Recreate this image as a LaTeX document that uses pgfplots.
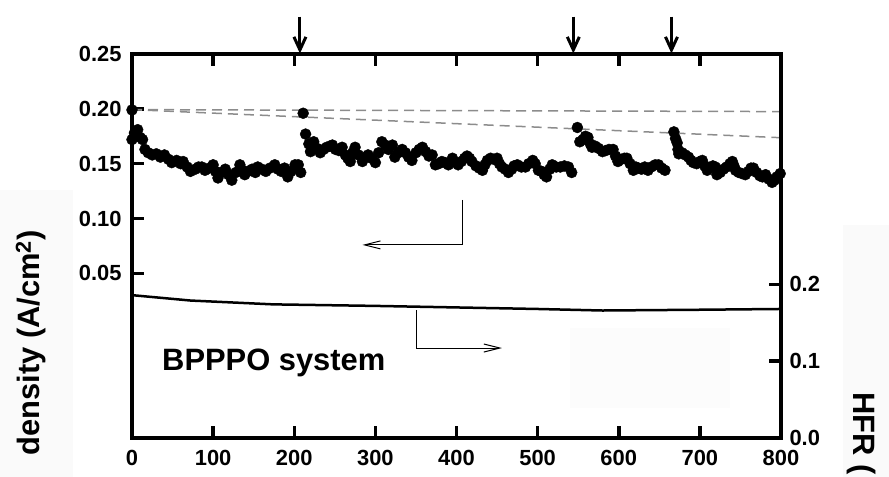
\documentclass[border=0pt]{standalone}
\usepackage{fontspec}
\setmainfont{Liberation Sans}
\usepackage{pgfplots}
\pgfplotsset{compat=1.18}
\usetikzlibrary{arrows.meta}
\begin{document}
\begin{tikzpicture}
\fill[black!2] (-132bp,-39bp) rectangle (-59bp,248bp);
\fill[black!2] (711bp,-39bp) rectangle (757bp,213bp);
\fill[black!1] (438bp,30bp) rectangle (598bp,110bp);
\useasboundingbox (-132bp,-39bp) rectangle (757bp,438bp);
\pgfplotsset{
  mystyle/.style={
    at={(0bp,0bp)}, anchor=south west,
    width=649bp, height=384bp, scale only axis,
    xmin=0, xmax=800, clip=false,
    axis line style={line width=4bp},
    every tick/.style={black, line width=3.5bp},
    major tick length=12bp, tick align=inside,
    /pgf/number format/assume math mode=true,
    tick label style={font=\fontsize{22}{26}\selectfont\bfseries},
  }
}
\begin{axis}[mystyle,
  ymin=-0.1, ymax=0.25,
  xtick={0,100,200,300,400,500,600,700,800},
  ytick={0.05,0.1,0.15,0.2,0.25},
  ytick pos=left,
  xticklabel style={yshift=-9bp},
  yticklabel style={xshift=-7bp, /pgf/number format/.cd, fixed, fixed zerofill, precision=2},
]
% dashed guide lines
\addplot[gray!90, line width=1.5bp, dash pattern=on 10bp off 6bp] coordinates {(0,0.1993) (800,0.1975)};
\addplot[gray!90, line width=1.5bp, dash pattern=on 10bp off 6bp] coordinates {(0,0.1993) (800,0.1737)};
% current density points
\addplot[only marks, mark=*, mark size=5.5bp, black] coordinates {
(0,0.199) (211,0.196) (549,0.183) (668,0.179)
};
\addplot[only marks, mark=*, mark size=5.5bp, black] coordinates {
(0,0.172) (3,0.178) (7,0.181) (10,0.174) (13,0.172) (16,0.163) (20,0.160) (25,0.158)
(30,0.159) (35,0.156) (40,0.158) (45,0.154) (49,0.151) (55,0.153) (60,0.150) (63,0.152)
(68,0.147) (72,0.143) (78,0.145) (82,0.147) (86,0.147) (90,0.144) (95,0.146) (100,0.149)
(103,0.143) (106,0.137) (110,0.142) (115,0.145) (119,0.140) (123,0.135) (128,0.142) (133,0.149)
(136,0.144) (139,0.140) (143,0.143) (148,0.145) (152,0.142) (155,0.147) (160,0.145) (165,0.143)
(170,0.146) (176,0.149) (180,0.145) (184,0.143) (188,0.146) (192,0.138) (196,0.143) (201,0.149)
(205,0.149) (208,0.142)
(214,0.177) (218,0.168) (220,0.161) (224,0.170) (228,0.164) (232,0.160) (236,0.163) (240,0.165)
(244,0.166) (247,0.167) (251,0.163) (255,0.162) (259,0.165) (263,0.158) (266,0.155) (269,0.152)
(272,0.160) (275,0.165) (279,0.158) (284,0.152) (288,0.156) (291,0.158) (295,0.155) (300,0.151)
(304,0.160) (308,0.170) (312,0.167) (316,0.163) (321,0.167) (324,0.156) (328,0.160) (333,0.163)
(337,0.160) (341,0.156) (345,0.153) (350,0.160) (354,0.163) (358,0.165) (362,0.161) (366,0.157)
(370,0.158) (374,0.149) (378,0.150) (382,0.152) (386,0.151) (390,0.149) (395,0.155) (399,0.151)
(402,0.149) (406,0.152) (410,0.155) (413,0.157) (416,0.155) (419,0.152) (424,0.148) (428,0.146)
(432,0.144) (435,0.149) (438,0.153) (442,0.155) (446,0.154) (450,0.155) (453,0.150) (456,0.147)
(460,0.145) (464,0.142) (468,0.145) (471,0.148) (475,0.149) (480,0.147) (485,0.147) (489,0.150)
(494,0.153) (497,0.150) (501,0.144) (505,0.143) (508,0.140) (511,0.138) (515,0.145) (518,0.149)
(523,0.147) (528,0.147) (533,0.148) (538,0.147) (542,0.142)
(552,0.170) (556,0.172) (559,0.175) (562,0.174) (565,0.168) (567,0.165) (571,0.166) (575,0.164)
(580,0.161) (584,0.162) (588,0.163) (593,0.163) (596,0.157) (599,0.152) (603,0.154) (607,0.155)
(610,0.155) (614,0.150) (618,0.144) (621,0.147) (624,0.146) (628,0.145) (632,0.147) (636,0.144)
(640,0.147) (645,0.149) (649,0.149) (653,0.146) (657,0.144)
(670,0.173) (672,0.169) (673,0.163) (674,0.159) (678,0.160) (682,0.158) (686,0.156) (689,0.153)
(692,0.151) (696,0.150) (700,0.152) (703,0.153) (706,0.148) (709,0.144) (712,0.146) (716,0.148)
(719,0.147) (721,0.140) (725,0.142) (729,0.145) (733,0.147) (737,0.150) (740,0.152) (742,0.148)
(744,0.144) (748,0.142) (752,0.141) (756,0.140) (760,0.143) (763,0.146) (766,0.146) (770,0.142)
(774,0.139) (777,0.138) (781,0.140) (785,0.136) (789,0.133) (792,0.135) (795,0.138) (799,0.141)
};
% annotations
\draw[line width=1bp, -{Straight Barb[length=16bp,width=8bp]}] (axis cs:407,0.117) -- (axis cs:407,0.076) -- (axis cs:284,0.076);
\draw[line width=1bp, -{Straight Barb[length=16bp,width=8bp]}] (axis cs:351,0.0165) -- (axis cs:351,-0.018) -- (axis cs:456,-0.018);
\draw[line width=3bp, -{Straight Barb[length=13bp,width=12bp]}] (axis cs:207,0.284) -- (axis cs:207,0.2505);
\draw[line width=3bp, -{Straight Barb[length=13bp,width=12bp]}] (axis cs:544,0.284) -- (axis cs:544,0.2505);
\draw[line width=3bp, -{Straight Barb[length=13bp,width=12bp]}] (axis cs:665,0.284) -- (axis cs:665,0.2505);
\node[anchor=base west, inner sep=0pt, font=\fontsize{31}{36}\selectfont\bfseries] at (axis cs:37,-0.0384) {BPPPO system};
\end{axis}
\begin{axis}[mystyle,
  ymin=0, ymax=0.5,
  xtick=\empty,
  ytick={0,0.1,0.2},
  ytick pos=right, yticklabel pos=right,
  yticklabel style={xshift=5bp, /pgf/number format/.cd, fixed, fixed zerofill, precision=1},
]
\addplot[black, line width=2.5bp] coordinates {
(0,0.186) (72,0.179) (174,0.174) (300,0.172) (400,0.170) (500,0.168) (580,0.166) (700,0.167) (800,0.168)
};
\end{axis}
\node[rotate=90, anchor=east, inner sep=0pt, font=\fontsize{31}{36}\selectfont\bfseries] at (-101bp,208bp) {density (A/cm$^{\mathbf{2}}$)};
\node[rotate=-90, anchor=west, inner sep=0pt, font=\fontsize{31}{36}\selectfont\bfseries] at (729bp,46bp) {HFR (};
\end{tikzpicture}
\end{document}
